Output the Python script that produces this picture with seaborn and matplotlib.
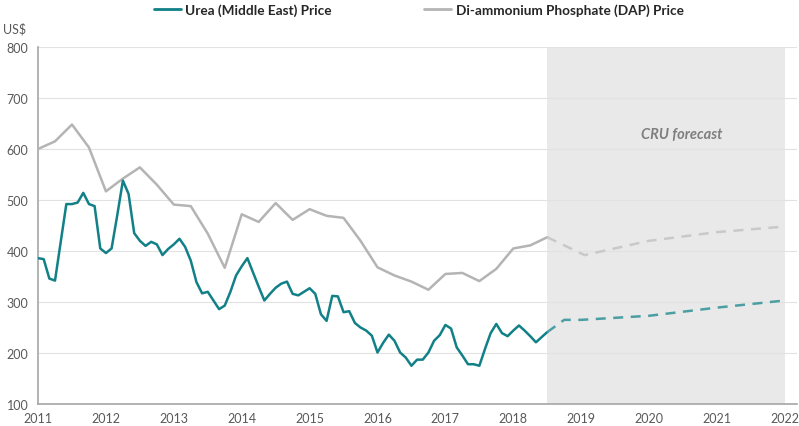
import numpy as np
import pandas as pd
import matplotlib
matplotlib.use("Agg")
import matplotlib.pyplot as plt
import seaborn as sns
from matplotlib.lines import Line2D

# ================================
# Data (US$/t)
# ================================

# Urea (Middle East), monthly Jan 2011 - Jul 2018
urea_monthly = [
    386, 384, 346, 342, 417, 492, 492, 495, 514, 492, 488, 405,
    396, 405, 470, 538, 512, 435, 420, 410, 418, 413, 392, 404,
    413, 424, 408, 381, 339, 317, 320, 303, 286, 293, 320, 352,
    370, 386, 358, 330, 303, 316, 328, 336, 340, 316, 313, 320,
    327, 316, 276, 263, 312, 311, 280, 282, 259, 250, 244, 234,
    201, 220, 236, 224, 201, 191, 175, 187, 187, 201, 224, 235,
    255, 248, 211, 195, 178, 178, 175, 208, 239, 257, 239, 233,
    244, 254, 244, 233, 221, 231, 241,
]

# DAP, quarterly Q1 2011 - Q3 2018
dap_quarterly = [
    600, 615, 648, 603, 517, 542, 564, 530,
    491, 488, 434, 367, 472, 457, 494, 461,
    482, 469, 465, 420, 368, 352, 340, 324,
    355, 357, 341, 365, 405, 411, 427,
]

# CRU forecast
urea_fc_years = [2018.5, 2018.75, 2019.0, 2020.0, 2021.0, 2022.0]
urea_fc = [241, 265, 265, 273, 289, 303]
dap_fc_years = [2018.5, 2019.05, 2020.0, 2021.0, 2022.0]
dap_fc = [427, 392, 420, 437, 448]

year_ticks = list(range(2011, 2023))
price_ticks = list(range(100, 900, 100))

urea_years = 2011 + np.arange(len(urea_monthly)) / 12
dap_years = 2011 + np.arange(len(dap_quarterly)) / 4

# ================================
# Style
# ================================

sns.set_style("white")
plt.rcParams["font.family"] = ["Lato", "DejaVu Sans"]

teal = "#128087"
teal_fc = "#4b9fa3"
grey = "#b4b4b4"
grey_fc = "#c9c9c9"
txt = "#595959"

fig = plt.figure(figsize=(7.99, 4.27), dpi=100)
ax = fig.add_axes([0.0476, 0.0515, 0.95, 0.8361])

# forecast shading
ax.axvspan(2018.5, 2022, color="#e9e9e9", zorder=0, lw=0)

for v in price_ticks:
    ax.axhline(v, color="#e2e2e2", lw=0.8, zorder=0.5)

# ================================
# Lines
# ================================

sns.lineplot(x=dap_years, y=dap_quarterly, ax=ax, color=grey, lw=1.8, zorder=3)
sns.lineplot(x=urea_years, y=urea_monthly, ax=ax, color=teal, lw=1.8, zorder=4)
sns.lineplot(x=dap_fc_years, y=dap_fc, ax=ax, color=grey_fc, lw=1.8,
             linestyle=(0, (4, 3)), zorder=3)
sns.lineplot(x=urea_fc_years, y=urea_fc, ax=ax, color=teal_fc, lw=1.8,
             linestyle=(0, (4, 3)), zorder=4)

# ================================
# Axes
# ================================

ax.set_xlim(2011, 2022.18)
ax.set_ylim(100, 800)
ax.set_xticks(year_ticks)
ax.set_yticks(price_ticks)
ax.set_xticklabels([str(y) for y in year_ticks])
ax.tick_params(axis="x", direction="inout", length=7, width=1, color="#a6a6a6",
               labelsize=9, labelcolor=txt, pad=2)
ax.tick_params(axis="y", direction="out", length=4, width=1, color="#a6a6a6",
               labelsize=9, labelcolor=txt, pad=3)

for side in ["top", "right"]:
    ax.spines[side].set_visible(False)
for side in ["left", "bottom"]:
    ax.spines[side].set_color("#a6a6a6")
    ax.spines[side].set_linewidth(1.2)

ax.set_xlabel("")
ax.set_ylabel("")

fig.text(0.004, 0.918, "US$", fontsize=9, color=txt, ha="left", va="bottom")

ax.text(2020.48, 629, "CRU forecast", fontsize=10.5, color="#7f7f7f",
        fontstyle="italic", fontweight="bold", ha="center", va="center")

# ================================
# Legend
# ================================

handles = [
    Line2D([0], [0], color=teal, lw=2),
    Line2D([0], [0], color=grey, lw=2),
]
labels = ["Urea (Middle East) Price", "Di-ammonium Phosphate (DAP) Price"]
leg = fig.legend(handles, labels, loc="upper center", bbox_to_anchor=(0.524, 1.018),
                 ncol=2, frameon=False, handlelength=2.0, handletextpad=0.3,
                 columnspacing=6.8, prop={"size": 9.8, "weight": "bold"})
for t in leg.get_texts():
    t.set_color("#262626")

fig.savefig("out.png", dpi=100)
